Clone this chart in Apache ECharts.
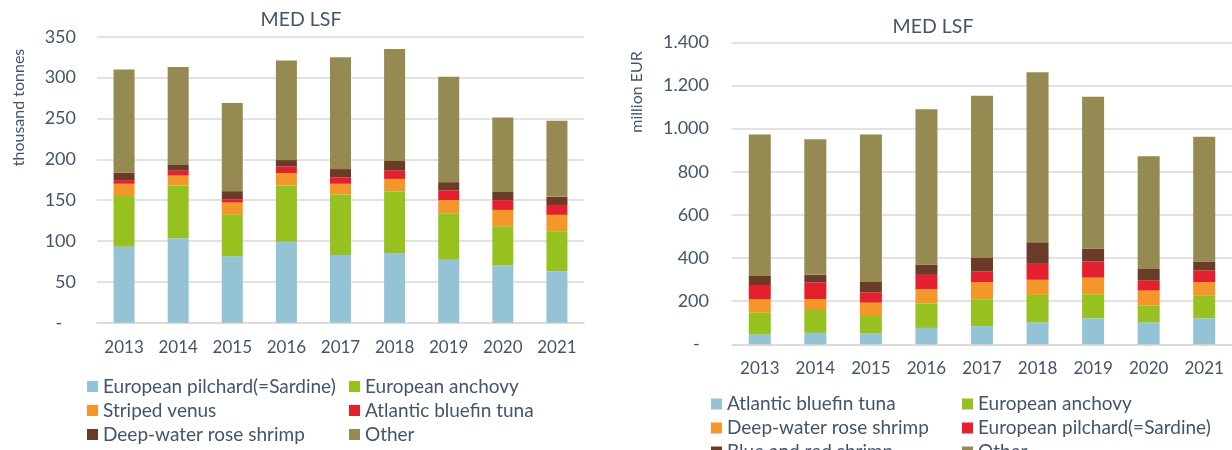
<!DOCTYPE html>
<html>
<head>
<meta charset="utf-8">
<script src="https://cdn.jsdelivr.net/npm/echarts@6/dist/echarts.min.js"></script>
<style>
html,body{margin:0;padding:0;background:#fff;}
#wrap{position:relative;width:1232px;height:450px;overflow:hidden;}
#c1{position:absolute;left:0;top:0;width:616px;height:450px;}
#c2{position:absolute;left:616px;top:0;width:616px;height:450px;}
</style>
</head>
<body>
<div id="wrap"><div id="c1"></div><div id="c2"></div></div>
<script>
// ---- Data ----
const years = ['2013','2014','2015','2016','2017','2018','2019','2020','2021'];

// Left chart: thousand tonnes
const volNames = ['European pilchard(=Sardine)','European anchovy','Striped venus','Atlantic bluefin tuna','Deep-water rose shrimp','Other'];
const volSardine = [93, 103, 81, 99, 83, 85, 77, 70, 63];
const volAnchovy = [62, 65, 51, 69, 74, 76, 57, 48, 49];
const volVenus   = [15, 12, 15, 15, 13, 15, 16, 20, 20];
const volTuna    = [4.5, 6, 4, 8, 8, 10, 12, 12, 12];
const volShrimp  = [9, 7, 10, 8, 10, 12, 10, 10, 10];
const volOther   = [126.5, 120, 108, 122, 137, 137, 129, 91, 93];
const volTicks = [0, 50, 100, 150, 200, 250, 300, 350];

// Right chart: million EUR
const valNames = ['Atlantic bluefin tuna','European anchovy','Deep-water rose shrimp','European pilchard(=Sardine)','Blue and red shrimp','Other'];
const valTuna     = [45, 53, 50, 76, 84, 101, 120, 101, 120];
const valAnchovy  = [101, 106, 81, 114, 125, 128, 112, 78, 105];
const valDwShrimp = [62, 51, 62, 65, 79, 70, 77, 70, 63];
const valSardine  = [67, 76, 47, 67, 49, 74, 75, 46, 54];
const valBRShrimp = [42, 36, 49, 47, 63, 100, 59, 54, 42];
const valOther    = [656, 629, 684, 721, 752, 788, 705, 523, 578];
const valTicks = [0, 200, 400, 600, 800, 1000, 1200, 1400];

// ---- Styles ----
const TXT = '#44546A';
const FONT = 'Lato';
const GRID = '#d9d9d9';
const cBlue = '#93c3d4', cGreen = '#96c11f', cOrange = '#f5962a', cRed = '#e5202e', cBrown = '#6a3b26', cOlive = '#948a52';

function mkSeries(names, arrs, colors, bw){
  return names.map((n,i)=>({
    name:n, type:'bar', stack:'s', barWidth:bw, data:arrs[i],
    itemStyle:{color:colors[i]}, emphasis:{disabled:true}
  }));
}
function legends(names, x1, x2, top){
  const base = {orient:'vertical', top:top, height:200, padding:0, itemWidth:11, itemHeight:11, itemGap:4,
    icon:'rect', textStyle:{color:TXT, fontFamily:FONT, fontSize:19, lineHeight:20}, selectedMode:false};
  return [
    Object.assign({}, base, {left:x1, data:[names[0],names[2],names[4]]}),
    Object.assign({}, base, {left:x2, data:[names[1],names[3],names[5]]})
  ];
}
function yAxisOpt(max, interval, margin, fmt){
  return {type:'value', min:0, max:max, interval:interval,
    axisLine:{show:false}, axisTick:{show:false},
    splitLine:{lineStyle:{color:GRID, width:1.5}},
    axisLabel:{color:TXT, fontFamily:FONT, fontSize:18, margin:margin, formatter:fmt}};
}
function xAxisOpt(){
  return {type:'category', data:years,
    axisLine:{lineStyle:{color:GRID, width:1.5}}, axisTick:{show:false},
    axisLabel:{color:TXT, fontFamily:FONT, fontSize:17, margin:16, interval:0}};
}

// ---- Left chart ----
const ch1 = echarts.init(document.getElementById('c1'), null, {renderer:'canvas'});
ch1.setOption({
  animation:false,
  grid:{left:97, top:36.7, width:487, height:286},
  xAxis:xAxisOpt(),
  yAxis:yAxisOpt(350, 50, 21, v => v===0 ? '-   ' : String(v)),
  legend:legends(volNames, 87, 349, 376.5),
  series:mkSeries(volNames, [volSardine,volAnchovy,volVenus,volTuna,volShrimp,volOther],
    [cBlue,cGreen,cOrange,cRed,cBrown,cOlive], 21),
  graphic:[
    {type:'text', position:[301,20], style:{text:'MED LSF', fill:TXT, font:'19.5px Lato', textAlign:'center', textVerticalAlign:'middle'}},
    {type:'text', rotation:Math.PI/2, position:[19,107.5], style:{text:'thousand tonnes', fill:TXT, font:'16px Lato', textAlign:'center', textVerticalAlign:'middle'}}
  ]
});

// ---- Right chart ----
const ch2 = echarts.init(document.getElementById('c2'), null, {renderer:'canvas'});
function fmtEU(v){
  if (v===0) return '-  ';
  if (v>=1000) return Math.floor(v/1000)+'.'+String(v%1000).padStart(3,'0');
  return String(v);
}
ch2.setOption({
  animation:false,
  grid:{left:116, top:42.3, width:505, height:302},
  xAxis:xAxisOpt(),
  yAxis:yAxisOpt(1400, 200, 23, fmtEU),
  legend:legends(valNames, 95, 346, 394),
  series:mkSeries(valNames, [valTuna,valAnchovy,valDwShrimp,valSardine,valBRShrimp,valOther],
    [cBlue,cGreen,cOrange,cRed,cBrown,cOlive], 22),
  graphic:[
    {type:'text', position:[317,27], style:{text:'MED LSF', fill:TXT, font:'19.5px Lato', textAlign:'center', textVerticalAlign:'middle'}},
    {type:'text', rotation:Math.PI/2, position:[21,92], style:{text:'million EUR', fill:TXT, font:'16px Lato', textAlign:'center', textVerticalAlign:'middle'}}
  ]
});
</script>
</body>
</html>
